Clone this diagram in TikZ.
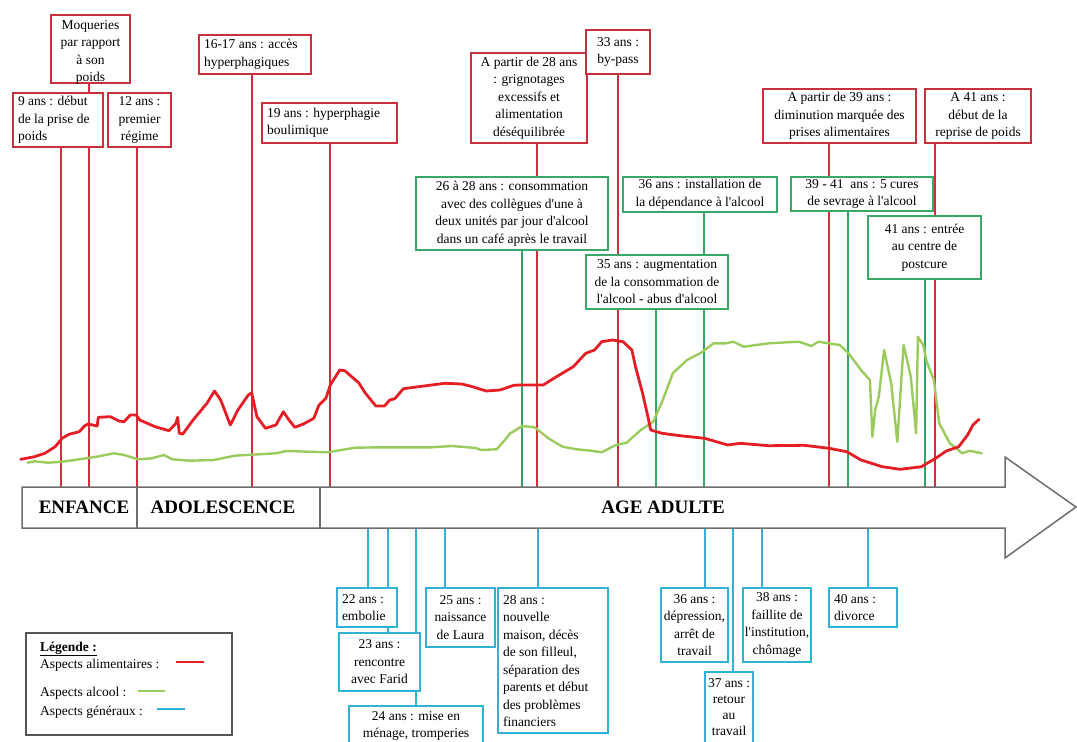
\documentclass[tikz,border=0pt]{standalone}
\usepackage{fontspec}
\setmainfont{Liberation Serif}[Ligatures=TeXOff]
\pgfdeclarelayer{bg}
\pgfsetlayers{bg,main}
\definecolor{redc}{HTML}{E31E24}
\definecolor{redl}{HTML}{D42E3A}
\definecolor{redb}{HTML}{C9303E}
\definecolor{grnc}{HTML}{9BCB5C}
\definecolor{grnl}{HTML}{2FA567}
\definecolor{grnb}{HTML}{3BA86A}
\definecolor{bluc}{HTML}{2FB2D6}
\definecolor{arrc}{HTML}{6E6E6E}
\definecolor{legc}{HTML}{555555}
% #1 valign, #2 style, #3 name, #4 x1, #5 y1, #6 x2, #7 y2, #8 align, #9 text
\newcommand\evbox[9][c]{%
  \node[#2] (#3) at ({(#4+#6)/2},{(#5+#7)/2})
   {\parbox[c][\dimexpr #7pt-#5pt-6pt\relax][#1]{\dimexpr #6pt-#4pt-10pt\relax}{#8#9}};}
\newcommand\fl[1]{\makebox[\linewidth][c]{#1}}
\begin{document}
\begin{tikzpicture}[x=1pt,y=-1pt,
  every node/.style={font=\fontsize{13.5}{17.5}\selectfont},
  boxbase/.style={fill=white, inner xsep=5pt, inner ysep=3pt},
  rbox/.style={boxbase, draw=redb, line width=1.8pt},
  rboxthick/.style={boxbase, draw=redb, line width=2.8pt},
  gbox/.style={boxbase, draw=grnb, line width=1.8pt},
  bbox/.style={boxbase, draw=bluc, line width=1.8pt},
  rline/.style={draw=redl, line width=1.6pt},
  gline/.style={draw=grnl, line width=2pt},
  bline/.style={draw=bluc, line width=2pt},
  redcurve/.style={draw=redc, line width=2.8pt, line join=round, line cap=round},
  grncurve/.style={draw=grnc, line width=2.4pt, line join=round, line cap=round},
  arrowshape/.style={draw=arrc, line width=1.5pt, fill=white},
  periodtxt/.style={font=\fontsize{19}{22}\selectfont\bfseries, inner sep=0pt},
  legtxt/.style={inner sep=0pt, anchor=base west}]
\useasboundingbox (0,0) rectangle (1077,742);
\clip (0,0) rectangle (1077,742);

% ---------- time arrow ----------
\draw[arrowshape] (22,487) -- (1005,487) -- (1005,457) -- (1076,507) -- (1005,558) -- (1005,528) -- (22,528) -- cycle;
\coordinate (d1t) at (137,487); \coordinate (d1b) at (137,528);
\coordinate (d2t) at (320,487); \coordinate (d2b) at (320,528);
\draw[draw=arrc, line width=1.3pt] (d1t) -- (d1b);
\draw[draw=arrc, line width=1.3pt] (d2t) -- (d2b);
\node[periodtxt] (enf) at (84,507) {ENFANCE};
\node[periodtxt] (ado) at (223,507) {ADOLESCENCE};
\node[periodtxt] (adu) at (663,507) {AGE ADULTE};

% ---------- curves ----------
\draw[grncurve] (27.6,462.7) -- (34.5,461.3) -- (48.3,462.7) -- (62.1,461.7) -- (79.3,459.3) -- (96.6,456.7) -- (113.8,453.3) -- (124.1,455) -- (137.9,459.3) -- (151.7,458.3) -- (163.8,455) -- (172.4,459.3) -- (189.7,460.7) -- (213.8,460) -- (234.5,455.7) -- (251.7,454.7) -- (275.9,453.3) -- (286.2,451) -- (327.6,452.3) -- (355.2,447.7) -- (379.3,447.3) -- (431,447.3) -- (451.7,446) -- (475.9,448) -- (481,450) -- (496.6,449.3) -- (503.4,441.7) -- (510.3,433.3) -- (522.4,426) -- (534.5,427.3) -- (536,428.3) -- (548.4,438.3) -- (562.6,446.7) -- (576.8,449.3) -- (591,450.7) -- (601.7,452.3) -- (615.9,445) -- (626.6,442.7) -- (640.8,430) -- (653.2,421.7) -- (662.1,401.7) -- (672.8,373.3) -- (687,360) -- (701.2,352.7) -- (713.6,343.3) -- (726,343.3) -- (733.1,341.7) -- (743.8,346.7) -- (768.7,343.3) -- (798.9,341.7) -- (811.3,346) -- (818.4,341.7) -- (839.7,345) -- (848.6,353.3) -- (861,370) -- (869.9,380) -- (872.4,436.7) -- (875.2,410) -- (878.8,396.7) -- (884.1,350) -- (891.2,383.3) -- (897.3,441.7) -- (903.6,345) -- (910.8,376.7) -- (916.1,433.3) -- (917.9,336.7) -- (923.2,345) -- (926.7,361.7) -- (933.9,380) -- (939.2,423.3) -- (949.8,443.3) -- (962.3,453.3) -- (969.4,450.7) -- (981.8,453.3);
\draw[redcurve] (20.7,459.3) -- (34.5,456.7) -- (44.8,453.3) -- (55.2,446.7) -- (62.1,438.3) -- (69,434.3) -- (79.3,431.7) -- (84.5,426) -- (87.9,424) -- (97.2,426) -- (98.3,417.3) -- (110.3,416.7) -- (119,421) -- (124.1,421.7) -- (130.3,415) -- (136.2,415) -- (139.7,420) -- (155.2,426.7) -- (169,430.7) -- (175.9,423.3) -- (177.6,417.3) -- (179.3,433.3) -- (182.8,434) -- (193.1,420) -- (206.9,403.3) -- (214.5,391) -- (220.7,400) -- (230.3,425) -- (237.9,410) -- (248.3,395) -- (251.7,392.7) -- (256.9,416.7) -- (265.5,428.3) -- (275.9,425) -- (283.4,411.7) -- (289,420) -- (294.8,427.3) -- (303.4,424) -- (313.8,418.3) -- (319,405) -- (325.9,398.3) -- (330.3,385) -- (339.7,370) -- (344.8,370.7) -- (351.7,376.7) -- (358.6,382.7) -- (365.5,393.3) -- (375.9,406) -- (384.5,406) -- (389.7,400) -- (394.8,398.7) -- (403.4,388.7) -- (413.8,387.3) -- (444.8,383.3) -- (462.1,384) -- (472.4,386.7) -- (486.2,391) -- (500,390) -- (513.8,385.3) -- (520,385) -- (543.1,385) -- (555.5,377.3) -- (573.3,366.7) -- (585.7,353.3) -- (594.6,350) -- (601.7,341.7) -- (612.4,340) -- (623,341.7) -- (631.9,350) -- (635.5,366.7) -- (642.6,393.3) -- (647.9,416.7) -- (650.7,430) -- (662.1,433.3) -- (679.9,435.7) -- (704.7,438.3) -- (727.8,445) -- (740.2,443.3) -- (768.7,445.7) -- (804.2,445.3) -- (829.1,448.3) -- (846.8,451.7) -- (861,460) -- (882.3,466.7) -- (900.1,469.3) -- (921.4,466.7) -- (935.6,458.3) -- (946.3,451) -- (958.7,446.7) -- (967.6,435) -- (972.9,425) -- (979,419.3);

% ---------- boxes above the arrow ----------
\evbox[t]{rbox}{moq}{51}{15}{130}{83}{\centering}{\rule{0pt}{11pt}Moqueries\\par rapport\\à son\\poids}
\evbox{rbox}{b9}{13}{93}{103}{147}{\raggedright}{9 ans : début\\de la prise de\\poids}
\evbox{rbox}{b12}{108}{93}{171}{147}{\centering}{12 ans :\\premier\\régime}
\evbox{rbox}{b16}{199}{35}{311}{74}{\raggedright}{16-17 ans : accès\\hyperphagiques}
\evbox{rbox}{b19}{262}{103}{397}{143}{\raggedright}{19 ans : hyperphagie\\boulimique}
\evbox{rbox}{b28a}{471}{53}{587}{143}{\centering}{A partir de 28 ans\\: grignotages\\excessifs et\\alimentation\\déséquilibrée}
\evbox{rboxthick}{b33}{586}{30}{650}{74}{\centering}{33 ans :\\by-pass}
\evbox{gbox}{b2628}{416}{177}{608}{250}{\centering}{26 à 28 ans : consommation\\avec des collègues d'une à\\deux unités par jour d'alcool\\dans un café après le travail}
\evbox{gbox}{b36i}{623}{177}{777}{212}{\centering}{36 ans : installation de\\la dépendance à l'alcool}
\evbox{gbox}{b35}{586}{255}{728}{309}{\centering}{35 ans : augmentation\\de la consommation de\\l'alcool - abus d'alcool}
\evbox{rbox}{b39a}{763}{89}{916}{143}{\centering}{A partir de 39 ans :\\diminution marquée des\\prises alimentaires}
\evbox{rbox}{b41a}{925}{89}{1031}{143}{\centering}{A 41 ans :\\début de la\\reprise de poids}
\evbox{gbox}{b3941}{791}{177}{933}{211}{\centering}{39 - 41~ ans : 5 cures\\de sevrage à l'alcool}
\evbox{gbox}{b41e}{868}{216}{981}{279}{\centering}{41 ans : entrée\\au centre de\\postcure}

% ---------- boxes below the arrow ----------
\evbox{bbox}{b22}{337}{588}{397}{627}{\raggedright}{22 ans :\\embolie}
\evbox{bbox}{b23}{339}{633}{420}{691}{\centering}{23 ans :\\rencontre\\avec Farid}
\evbox[t]{bbox}{b24}{349}{706}{483}{752}{\centering}{\rule{0pt}{11pt}24 ans : mise en\\ménage, tromperies}
\evbox{bbox}{b25}{426}{588}{495}{647}{\centering}{25 ans :\\naissance\\de Laura}
\evbox[t]{bbox}{b28}{498}{588}{608}{733}{\raggedright}{\rule{0pt}{13pt}28 ans :\\nouvelle\\maison, décès\\de son filleul,\\séparation des\\parents et début\\des problèmes\\financiers}
\evbox{bbox}{b36d}{661}{588}{728}{662}{\centering}{36 ans :\\\fl{dépression,}\\arrêt de\\travail}
\evbox[t]{bbox}{b37}{705}{672}{753}{748}{\centering\baselineskip=16pt}{\rule{0pt}{12pt}\fl{37 ans :}\\retour\\au\\travail}
\evbox{bbox}{b38}{743}{588}{811}{662}{\centering}{38 ans :\\faillite de\\\fl{l'institution,}\\chômage}
\evbox{bbox}{b40}{829}{588}{897}{627}{\raggedright}{40 ans :\\divorce}

% ---------- vertical connectors (behind) ----------
\begin{pgfonlayer}{bg}
\coordinate (fmoq) at (89,487);  \draw[rline] (moq.south -| fmoq) -- (fmoq);
\coordinate (f9) at (61,487);    \draw[rline] (b9.south -| f9) -- (f9);
\coordinate (f12) at (137,487);  \draw[rline] (b12.south -| f12) -- (f12);
\coordinate (f16) at (252,487);  \draw[rline] (b16.south -| f16) -- (f16);
\coordinate (f19) at (330,487);  \draw[rline] (b19.south -| f19) -- (f19);
\coordinate (f28a) at (537,487); \draw[rline] (b28a.south -| f28a) -- (f28a);
\coordinate (f33) at (618,487);  \draw[rline] (b33.south -| f33) -- (f33);
\coordinate (f39a) at (829,487); \draw[rline] (b39a.south -| f39a) -- (f39a);
\coordinate (f41a) at (935,487); \draw[rline] (b41a.south -| f41a) -- (f41a);
\coordinate (f2628) at (522,487); \draw[gline] (b2628.south -| f2628) -- (f2628);
\coordinate (f35) at (656,487);   \draw[gline] (b35.south -| f35) -- (f35);
\coordinate (f36i) at (704,487);  \draw[gline] (b36i.south -| f36i) -- (f36i);
\coordinate (f3941) at (848,487); \draw[gline] (b3941.south -| f3941) -- (f3941);
\coordinate (f41e) at (925,487);  \draw[gline] (b41e.south -| f41e) -- (f41e);
\coordinate (g22) at (368,528); \draw[bline] (g22) -- (g22 |- b22.north);
\coordinate (g23) at (388,528); \draw[bline] (g23) -- (g23 |- b23.north);
\coordinate (g24) at (416,528); \draw[bline] (g24) -- (g24 |- b24.north);
\coordinate (g25) at (445,528); \draw[bline] (g25) -- (g25 |- b25.north);
\coordinate (g28) at (538,528); \draw[bline] (g28) -- (g28 |- b28.north);
\coordinate (g36) at (705,528); \draw[bline] (g36) -- (g36 |- b36d.north);
\coordinate (g37) at (733,528); \draw[bline] (g37) -- (g37 |- b37.north);
\coordinate (g38) at (762,528); \draw[bline] (g38) -- (g38 |- b38.north);
\coordinate (g40) at (868,528); \draw[bline] (g40) -- (g40 |- b40.north);
\end{pgfonlayer}

% ---------- legend ----------
\node[draw=legc, line width=1.2pt, fill=white, minimum width=206pt, minimum height=102pt, inner sep=0pt] (leg) at (129,684) {};
\node[legtxt] (legt) at (40,651) {\textbf{\underline{Légende :}}};
\node[legtxt] (la) at (40,668) {Aspects alimentaires :};
\node[legtxt] (lb) at (40,696) {Aspects alcool :};
\node[legtxt] (lc) at (40,715) {Aspects généraux :};
\coordinate (sa1) at (176,662); \coordinate (sa2) at (204,662);
\coordinate (sb1) at (138,691); \coordinate (sb2) at (165,691);
\coordinate (sc1) at (157,709); \coordinate (sc2) at (185,709);
\draw[draw=redc, line width=2.4pt] (sa1) -- (sa2);
\draw[draw=grnc, line width=2.4pt] (sb1) -- (sb2);
\draw[draw=bluc, line width=1.2pt] (sc1) -- (sc2);
\end{tikzpicture}
\end{document}
